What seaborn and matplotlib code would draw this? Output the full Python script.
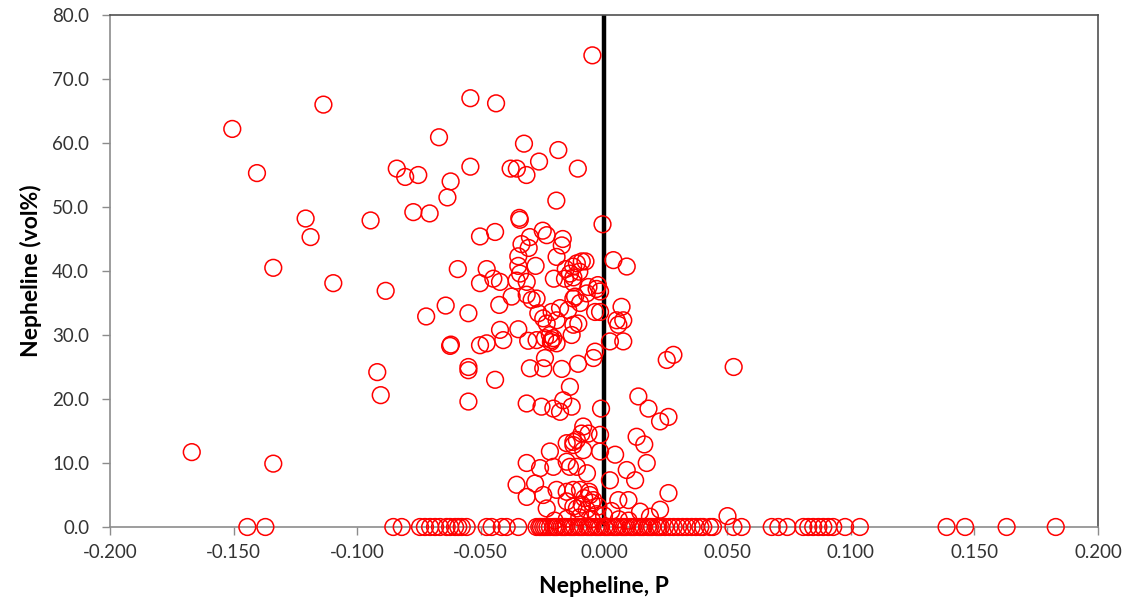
import matplotlib
matplotlib.use("Agg")
import matplotlib.pyplot as plt
import seaborn as sns
import pandas as pd

# ---- data ----
pts_x = [
    -0.1505, -0.1136, -0.1405, -0.1208, -0.1188, -0.1339, -0.1096, -0.0945, -0.0839, -0.0805,
    -0.0752, -0.0668, -0.0772, -0.0706, -0.0621, -0.0634, -0.0592, -0.0884, -0.0641, -0.0720,
    -0.0620, -0.0623, -0.0918, -0.0904, -0.1669, -0.1339,
    -0.0047, -0.0541, -0.0437, -0.0324, -0.0185, -0.0541, -0.0378, -0.0353, -0.0314, -0.0263,
    -0.0106, -0.0193, -0.0006, -0.0343, -0.0341, -0.0502, -0.0441, -0.0334, -0.0300, -0.0305,
    -0.0248, -0.0232, -0.0167, -0.0171, -0.0347, -0.0192, -0.0277, -0.0347, -0.0340, -0.0475,
    0.0038, 0.0092,
    -0.0110, -0.0090, -0.0075, -0.0155, -0.0125, -0.0138, -0.0100, -0.0158, -0.0124, -0.0203,
    -0.0125, -0.0063, -0.0025, -0.0016, -0.0030,
    -0.0502, -0.0448, -0.0421, -0.0354, -0.0313,
    -0.0549, -0.0424, -0.0374, -0.0313, -0.0293, -0.0273, -0.0266, -0.0246, -0.0212, -0.0192,
    -0.0178, -0.0145, -0.0124, -0.0104, -0.0117, -0.0097, -0.0070, -0.0036, -0.0016, 0.0071,
    0.0051, 0.0078, 0.0058, 0.0024, 0.0078, -0.0232, -0.0212, -0.0219, -0.0192, -0.0124,
    -0.0131, -0.0502, -0.0475, -0.0421, -0.0408, -0.0347, -0.0307, -0.0273, -0.0239, -0.0205,
    -0.0215, 0.0254, 0.0281, 0.0525, -0.0036, -0.0043, -0.0549, -0.0549, -0.0441, -0.0300,
    -0.0246, -0.0239, -0.0171, -0.0105, -0.0549, -0.0313, -0.0253, -0.0205, -0.0178, -0.0165,
    -0.0138, -0.0131, 0.0139, 0.0180, 0.0227, 0.0261, -0.0012, 0.0132, 0.0163, -0.0084,
    -0.0091, -0.0063, -0.0124, -0.0151, -0.0016, -0.0219, -0.0110, 0.0045, 0.0173, 0.0092,
    0.0126, 0.0261, -0.0016, 0.0024, 0.0058, 0.0099, 0.0227, 0.0146, 0.0186, 0.0500,
    -0.0124, -0.0084, -0.0151, -0.0110, -0.0069, -0.0151, -0.0097, -0.0057, -0.0043, -0.0124,
    -0.0070, -0.0023, -0.0313, -0.0259, -0.0205, -0.0138, -0.0354, -0.0313, -0.0279, -0.0246,
    -0.0192, -0.0124, -0.0232, -0.0151, -0.0110,
    -0.0080, -0.0050, -0.0090, -0.0060, -0.0030, -0.0100, -0.0050, 0.0000, 0.0030, 0.0060,
    0.0100, -0.0150, -0.0200,
]
pts_y = [
    62.2, 66.0, 55.3, 48.2, 45.3, 40.5, 38.1, 47.9, 56.0, 54.7,
    55.0, 60.9, 49.2, 49.0, 54.0, 51.5, 40.3, 36.9, 34.6, 32.9,
    28.5, 28.3, 24.2, 20.6, 11.7, 9.9,
    73.7, 67.0, 66.2, 59.9, 58.9, 56.3, 56.0, 56.0, 55.0, 57.1,
    56.0, 51.0, 47.3, 48.3, 48.0, 45.4, 46.1, 44.2, 45.3, 43.6,
    46.3, 45.6, 45.0, 44.0, 42.3, 42.2, 40.8, 40.8, 39.6, 40.3,
    41.7, 40.7,
    41.2, 41.5, 41.5, 40.3, 40.7, 39.6, 39.9, 38.8, 39.0, 38.8,
    38.2, 37.5, 37.8, 36.8, 37.2,
    38.1, 38.8, 38.3, 38.5, 38.3,
    33.4, 34.7, 36.0, 36.3, 35.5, 35.7, 33.4, 32.6, 33.6, 32.3,
    34.2, 33.9, 35.7, 31.8, 36.0, 35.0, 36.5, 33.6, 33.6, 34.4,
    32.3, 32.3, 31.6, 29.0, 29.0, 31.8, 29.2, 30.0, 28.7, 31.6,
    30.0, 28.4, 28.7, 30.8, 29.2, 30.9, 29.1, 29.2, 29.5, 29.5,
    28.9, 26.1, 26.9, 25.0, 27.4, 26.4, 25.0, 24.5, 23.0, 24.8,
    24.8, 26.4, 24.7, 25.5, 19.6, 19.3, 18.8, 18.5, 18.0, 19.8,
    21.9, 18.8, 20.4, 18.5, 16.5, 17.2, 18.5, 14.1, 12.9, 15.7,
    14.6, 14.6, 13.3, 13.1, 14.4, 11.8, 13.6, 11.3, 10.0, 8.9,
    7.3, 5.3, 11.8, 7.3, 4.2, 4.2, 2.7, 2.4, 1.6, 1.7,
    12.8, 12.0, 10.2, 9.4, 8.4, 5.5, 5.8, 5.0, 4.2, 3.2,
    2.7, 3.2, 10.0, 9.2, 9.4, 9.4, 6.6, 4.7, 6.8, 5.0,
    5.8, 5.8, 2.9, 4.0, 2.9,
    4.5, 3.8, 3.5, 5.5, 2.0, 1.5, 1.2, 1.8, 2.5, 1.2,
    1.0, 1.3, 1.0,
]
# samples with zero nepheline
zero_x = [
    -0.1444, -0.1371, -0.0853, -0.0819, -0.0745, -0.0725, -0.0704, -0.0684, -0.0664, -0.0637,
    -0.0623, -0.0603, -0.0590, -0.0576, -0.0556, -0.0475, -0.0455, -0.0414, -0.0394, -0.0347,
    -0.0273, -0.0246, -0.0219,
    -0.0255, -0.0238, -0.0205, -0.0190, -0.0172, -0.0155, -0.0138, -0.0120, -0.0103, -0.0085,
    -0.0068, -0.0050, -0.0033, -0.0015, 0.0002, 0.0020, 0.0037, 0.0055, 0.0072, 0.0090,
    0.0107, 0.0125, 0.0142, 0.0160, 0.0177, 0.0195, 0.0212, 0.0230, 0.0247, 0.0265,
    0.0282, 0.0300, 0.0318, 0.0336, 0.0355, 0.0372, 0.0390, 0.0402, 0.0429, 0.0441,
    0.0524, 0.0557, 0.0679, 0.0706, 0.0742, 0.0807, 0.0827, 0.0847, 0.0868, 0.0888,
    0.0908, 0.0928, 0.0976, 0.1036, 0.1387, 0.1462, 0.1630, 0.1829,
    -0.0262, -0.0229, -0.0197, -0.0163, -0.0129, -0.0094, -0.0059, -0.0024, 0.0011, 0.0046,
    0.0081, 0.0116, 0.0151, 0.0186, 0.0221,
]
zero_y = [0.0] * len(zero_x)

ref_x = [0.0, 0.0]
ref_y = [0.0, 80.0]

x_ticks = [-0.200, -0.150, -0.100, -0.050, 0.000, 0.050, 0.100, 0.150, 0.200]
y_ticks = [0, 10, 20, 30, 40, 50, 60, 70, 80]

df = pd.DataFrame({"P": pts_x + zero_x, "vol": pts_y + zero_y})
ref = pd.DataFrame({"P": ref_x, "vol": ref_y})

# ---- figure ----
sns.set_theme(style="white")
plt.rcParams["font.family"] = ["Lato", "DejaVu Sans"]

fig = plt.figure(figsize=(11.33, 6.13), dpi=100)
ax = fig.add_axes([0.0971, 0.1403, 0.8720, 0.8352])

sns.lineplot(data=ref, x="P", y="vol", color="black", linewidth=3.2, ax=ax,
             zorder=2, sort=False, estimator=None, errorbar=None)
sns.scatterplot(data=df, x="P", y="vol", s=145, marker="o",
                facecolors="none", edgecolor="#FF0000", linewidth=1.1,
                ax=ax, zorder=3, clip_on=False)

ax.set_xlim(-0.2, 0.2)
ax.set_ylim(0, 80)
ax.set_xticks(x_ticks)
ax.set_xticklabels([f"{v:.3f}" for v in x_ticks])
ax.set_yticks(y_ticks)
ax.set_yticklabels([f"{v:.1f}" for v in y_ticks])

ax.tick_params(axis="x", direction="out", length=6, width=1, color="#8C8C8C",
               pad=6, labelsize=13.5, labelcolor="#333333", bottom=True)
ax.tick_params(axis="y", direction="out", length=6, width=1, color="#8C8C8C",
               pad=9, labelsize=13.5, labelcolor="#333333", left=True)

for side in ["left", "bottom"]:
    ax.spines[side].set_color("#8C8C8C")
    ax.spines[side].set_linewidth(1.2)
for side in ["top", "right"]:
    ax.spines[side].set_color("#505050")
    ax.spines[side].set_linewidth(1.2)
ax.spines["bottom"].set_zorder(2.5)

ax.set_xlabel("Nepheline, P", fontsize=16.5, fontweight="bold", color="black", labelpad=11)
ax.set_ylabel("Nepheline (vol%)", fontsize=16.5, fontweight="bold", color="black", labelpad=7)

fig.savefig("out.png", dpi=100)
